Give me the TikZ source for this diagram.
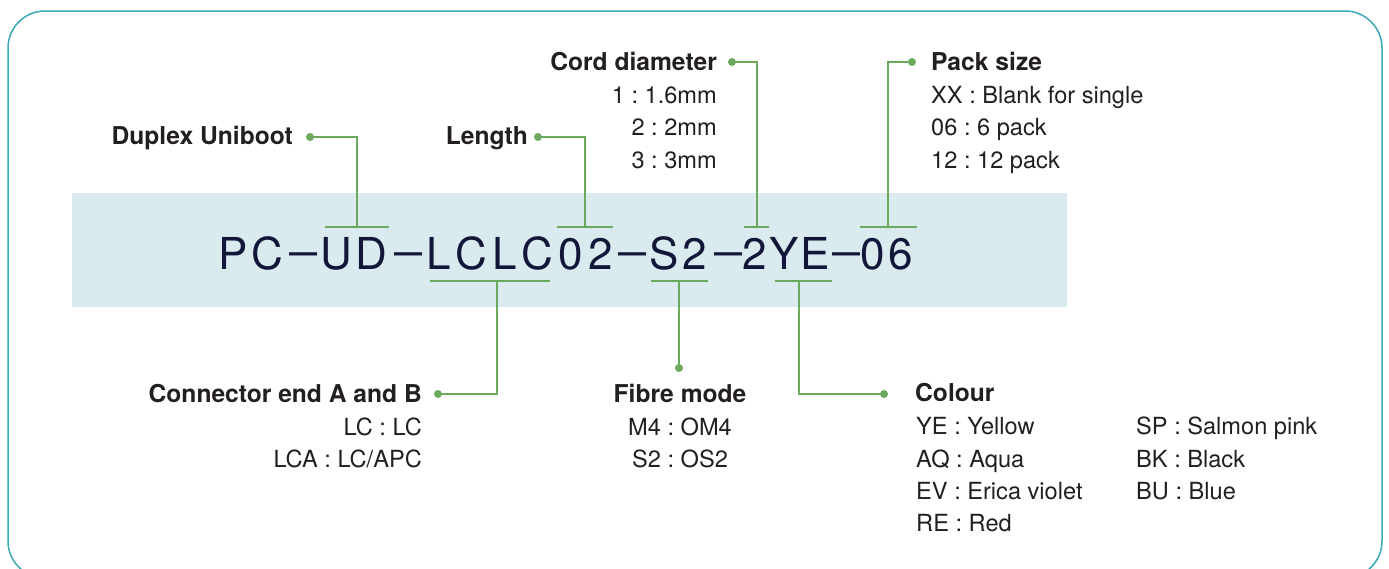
\documentclass[tikz,border=0pt]{standalone}
\usepackage{fontspec}
\setmainfont{TeX Gyre Heros}
\frenchspacing
\definecolor{frame}{HTML}{3AA9B9}
\definecolor{band}{HTML}{D9EBEF}
\definecolor{lgreen}{HTML}{6BAA5C}
\definecolor{codeink}{HTML}{121639}
\definecolor{ink}{HTML}{231F20}
\newcommand\ck{\kern3.6pt}
\newcommand\cw{\kern5pt}
\newcommand\cn{\kern2.4pt}
\newcommand\cdash{\raisebox{3pt}{\scalebox{1.15}[1]{–}}}
\tikzset{
  lbl/.style={inner sep=0pt, text=ink, font=\fontsize{24.6}{24.6}\selectfont\bfseries},
  itm/.style={inner sep=0pt, text=ink, font=\fontsize{23.6}{23.6}\selectfont},
  code/.style={inner sep=0pt, text=codeink, font=\fontsize{44}{44}\selectfont, anchor=base west},
  dsh/.style={inner sep=0pt, text=codeink, font=\fontsize{44}{44}\selectfont, anchor=base},
  gline/.style={draw=lgreen, line width=2pt},
  gdot/.style={circle, fill=lgreen, inner sep=0pt, minimum size=8pt},
}
\begin{document}
\begin{tikzpicture}[x=1pt,y=-1pt]
\useasboundingbox (0,0) rectangle (1389,568);
\draw[frame, line width=1.5pt, rounded corners=37pt] (8,11) rectangle (1382,578);
\fill[band] (72,193) rectangle (1067,307);

% code
\node[code] (c1) at (218,269) {P\ck C};
\node[dsh]  (d1) at (303.5,269) {\cdash};
\node[code] (c2) at (320,269) {U\ck D};
\node[dsh]  (d2) at (409,269) {\cdash};
\node[code] (c3) at (426,269) {L\cw C\cw L\cw C\cw 0\cw 2};
\node[dsh]  (d3) at (632.5,269) {\cdash};
\node[code] (c4) at (649,269) {S\ck 2};
\node[dsh]  (d4) at (728.5,269) {\cdash};
\node[code] (c5) at (742,269) {2\cn Y\cn E};
\node[dsh]  (d5) at (846.5,269) {\cdash};
\node[code] (c6) at (860,269) {0\ck 6};

% bars
\coordinate (b1l) at (325,227); \coordinate (b1r) at (389,227); \coordinate (b1) at (357,227);
\coordinate (b2l) at (557,227); \coordinate (b2r) at (613,227); \coordinate (b2) at (585,227);
\coordinate (b3l) at (744,227); \coordinate (b3r) at (769,227); \coordinate (b3) at (757,227);
\coordinate (b4l) at (860,227); \coordinate (b4r) at (917,227); \coordinate (b4) at (888,227);
\coordinate (b5l) at (430,281); \coordinate (b5r) at (550,281); \coordinate (b5) at (497,281);
\coordinate (b6l) at (651,281); \coordinate (b6r) at (708,281); \coordinate (b6) at (679,281);
\coordinate (b7l) at (775,281); \coordinate (b7r) at (832,281); \coordinate (b7) at (799,281);
\foreach \b in {1,...,7} {\draw[gline] (b\b l) -- (b\b r);}

% Duplex Uniboot
\node[lbl, anchor=base east] (dup) at (293,144) {Duplex Uniboot};
\node[gdot] (dupdot) at (310,137) {};
\draw[gline] (dupdot.center) -| (b1);

% Length
\node[lbl, anchor=base east] (len) at (528,144) {Length};
\node[gdot] (lendot) at (538,137) {};
\draw[gline] (lendot.center) -| (b2);

% Cord diameter
\node[lbl, anchor=base east] (cord) at (717,70) {Cord diameter};
\node[itm, anchor=base east] (cord1) at (717,103) {1 : 1.6mm};
\node[itm, anchor=base east] (cord2) at (717,135) {2 : 2mm};
\node[itm, anchor=base east] (cord3) at (717,168) {3 : 3mm};
\node[gdot] (corddot) at (732,62) {};
\draw[gline] (corddot.center) -| (b3);

% Pack size
\node[lbl, anchor=base west] (pack) at (931,70) {Pack size};
\node[itm, anchor=base west] (pack1) at (931,103) {XX : Blank for single};
\node[itm, anchor=base west] (pack2) at (931,135) {06 : 6 pack};
\node[itm, anchor=base west] (pack3) at (931,168) {12 : 12 pack};
\node[gdot] (packdot) at (912,62) {};
\draw[gline] (packdot.center) -| (b4);

% Connector end
\node[lbl, anchor=base east] (conn) at (422,402) {Connector end A and B};
\node[itm, anchor=base east] (conn1) at (422,435) {LC : LC};
\node[itm, anchor=base east] (conn2) at (422,467) {LCA : LC/APC};
\node[gdot] (conndot) at (438,394) {};
\draw[gline] (conndot.center) -| (b5);

% Fibre mode
\node[lbl, anchor=base] (fib) at (680,402) {Fibre mode};
\node[itm, anchor=base] (fib1) at (680,435) {M4 : OM4};
\node[itm, anchor=base] (fib2) at (680,467) {S2 : OS2};
\node[gdot] (fibdot) at (679,368) {};
\draw[gline] (fibdot.center) -- (b6);

% Colour
\node[lbl, anchor=base west] (col) at (915,401) {Colour};
\node[itm, anchor=base west] (col1) at (916,434) {YE : Yellow};
\node[itm, anchor=base west] (col2) at (916,467) {AQ : Aqua};
\node[itm, anchor=base west] (col3) at (916,499) {EV : Erica violet};
\node[itm, anchor=base west] (col4) at (916,531) {RE : Red};
\node[itm, anchor=base west] (col5) at (1136,434) {SP : Salmon pink};
\node[itm, anchor=base west] (col6) at (1136,467) {BK : Black};
\node[itm, anchor=base west] (col7) at (1136,499) {BU : Blue};
\node[gdot] (coldot) at (884,394) {};
\draw[gline] (b7) |- (coldot.center);
\end{tikzpicture}
\end{document}
